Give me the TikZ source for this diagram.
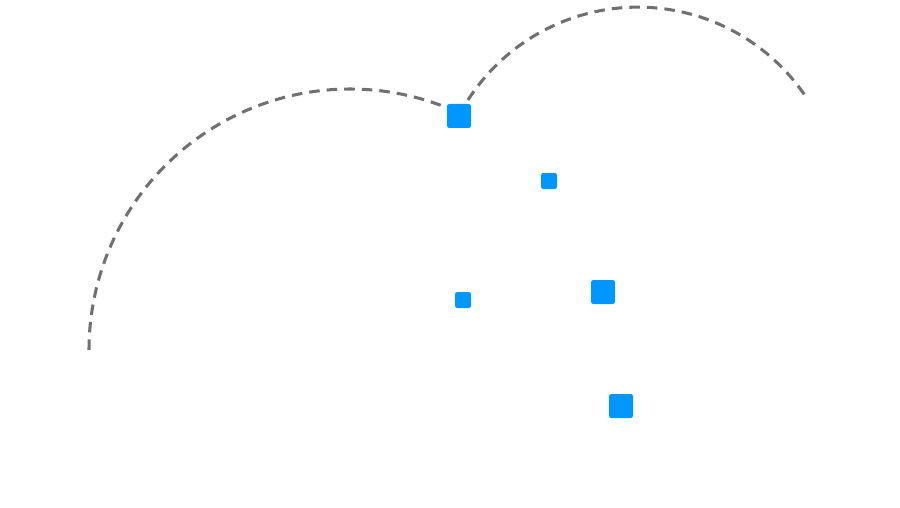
\documentclass[tikz,border=0pt]{standalone}
\begin{document}
\begin{tikzpicture}[x=0.03cm,y=-0.03cm,
    dot/.style={fill={rgb,255:red,0;green,150;blue,255},rounded corners=2pt,
      inner sep=0pt,minimum size=#1},
    orbit/.style={draw={rgb,255:red,112;green,112;blue,112},line width=2.6pt,
      dash pattern=on 9pt off 6pt}]

    \useasboundingbox (0,0) rectangle (900,508);

    % the orbits
    \coordinate (o1) at (89,350);
    \coordinate (o2) at (468,100);
    \draw[orbit] (o1) arc[start angle=180,end angle=293.6,radius=261];
    \draw[orbit] (o2) arc[start angle=212.7,end angle=326.1,radius=202];

    % the points
    \node[dot=24*0.03cm] (p1) at (459,116) {};
    \node[dot=16*0.03cm] (p2) at (549,181) {};
    \node[dot=24*0.03cm] (p3) at (603,292) {};
    \node[dot=16*0.03cm] (p4) at (463,300) {};
    \node[dot=24*0.03cm] (p5) at (621,406) {};
  \end{tikzpicture}
\end{document}
